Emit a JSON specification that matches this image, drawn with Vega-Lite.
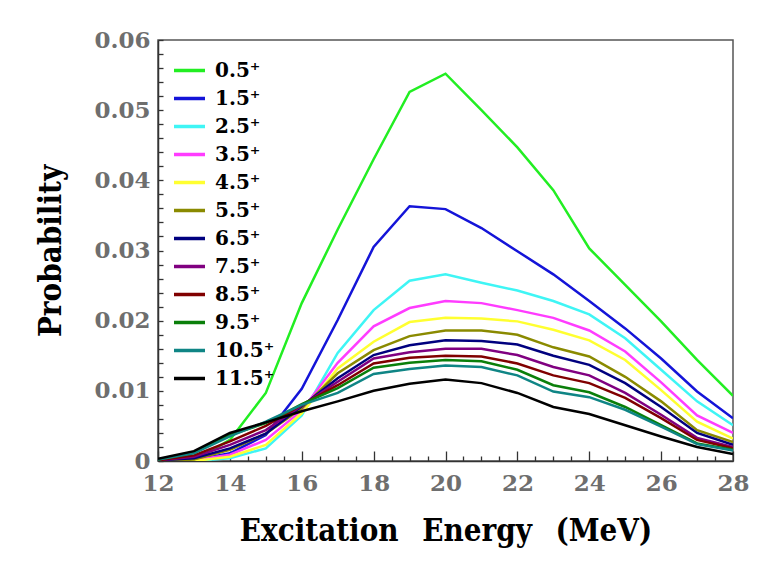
{
  "$schema": "https://vega.github.io/schema/vega-lite/v6.json",
  "width": 575,
  "height": 421,
  "autosize": {"type": "none"},
  "padding": {"left": 158, "top": 40, "right": 50, "bottom": 108},
  "background": "white",
  "config": {
    "view": {"stroke": "#555", "strokeWidth": 1.5},
    "axis": {
      "grid": false,
      "zindex": 1,
      "ticks": true,
      "domainColor": "#333",
      "domainWidth": 1.5,
      "tickColor": "#333",
      "tickWidth": 1.3,
      "labelFont": "DejaVu Serif",
      "labelFontWeight": "bold",
      "labelFontSize": 23,
      "labelColor": "#6e6e6e",
      "labelOverlap": false,
      "labelFlush": false,
      "titleFont": "DejaVu Serif Condensed, DejaVu Serif",
      "titleFontWeight": "bold",
      "titleFontSize": 31,
      "titleColor": "black"
    }
  },
  "data": {
    "values": [
      {"E":12,"J":"0.5⁺","p":0},{"E":13,"J":"0.5⁺","p":0.0001},{"E":14,"J":"0.5⁺","p":0.003},{"E":15,"J":"0.5⁺","p":0.0097},{"E":16,"J":"0.5⁺","p":0.0225},{"E":17,"J":"0.5⁺","p":0.033},{"E":18,"J":"0.5⁺","p":0.043},{"E":19,"J":"0.5⁺","p":0.0526},{"E":20,"J":"0.5⁺","p":0.0552},{"E":21,"J":"0.5⁺","p":0.05},{"E":22,"J":"0.5⁺","p":0.0447},{"E":23,"J":"0.5⁺","p":0.0386},{"E":24,"J":"0.5⁺","p":0.0303},{"E":25,"J":"0.5⁺","p":0.0251},{"E":26,"J":"0.5⁺","p":0.0199},{"E":27,"J":"0.5⁺","p":0.0144},{"E":28,"J":"0.5⁺","p":0.0093},
      {"E":12,"J":"1.5⁺","p":0},{"E":13,"J":"1.5⁺","p":0.0001},{"E":14,"J":"1.5⁺","p":0.0011},{"E":15,"J":"1.5⁺","p":0.0037},{"E":16,"J":"1.5⁺","p":0.0103},{"E":17,"J":"1.5⁺","p":0.0201},{"E":18,"J":"1.5⁺","p":0.0305},{"E":19,"J":"1.5⁺","p":0.0363},{"E":20,"J":"1.5⁺","p":0.0359},{"E":21,"J":"1.5⁺","p":0.0332},{"E":22,"J":"1.5⁺","p":0.0299},{"E":23,"J":"1.5⁺","p":0.0266},{"E":24,"J":"1.5⁺","p":0.0228},{"E":25,"J":"1.5⁺","p":0.0189},{"E":26,"J":"1.5⁺","p":0.0146},{"E":27,"J":"1.5⁺","p":0.0099},{"E":28,"J":"1.5⁺","p":0.0061},
      {"E":12,"J":"2.5⁺","p":0},{"E":13,"J":"2.5⁺","p":0},{"E":14,"J":"2.5⁺","p":0.0004},{"E":15,"J":"2.5⁺","p":0.0018},{"E":16,"J":"2.5⁺","p":0.0065},{"E":17,"J":"2.5⁺","p":0.0154},{"E":18,"J":"2.5⁺","p":0.0215},{"E":19,"J":"2.5⁺","p":0.0257},{"E":20,"J":"2.5⁺","p":0.0266},{"E":21,"J":"2.5⁺","p":0.0254},{"E":22,"J":"2.5⁺","p":0.0243},{"E":23,"J":"2.5⁺","p":0.0228},{"E":24,"J":"2.5⁺","p":0.0209},{"E":25,"J":"2.5⁺","p":0.0175},{"E":26,"J":"2.5⁺","p":0.013},{"E":27,"J":"2.5⁺","p":0.0085},{"E":28,"J":"2.5⁺","p":0.0051},
      {"E":12,"J":"3.5⁺","p":0},{"E":13,"J":"3.5⁺","p":0.0001},{"E":14,"J":"3.5⁺","p":0.0009},{"E":15,"J":"3.5⁺","p":0.003},{"E":16,"J":"3.5⁺","p":0.0072},{"E":17,"J":"3.5⁺","p":0.014},{"E":18,"J":"3.5⁺","p":0.0192},{"E":19,"J":"3.5⁺","p":0.0218},{"E":20,"J":"3.5⁺","p":0.0228},{"E":21,"J":"3.5⁺","p":0.0225},{"E":22,"J":"3.5⁺","p":0.0215},{"E":23,"J":"3.5⁺","p":0.0204},{"E":24,"J":"3.5⁺","p":0.0186},{"E":25,"J":"3.5⁺","p":0.0156},{"E":26,"J":"3.5⁺","p":0.0112},{"E":27,"J":"3.5⁺","p":0.0065},{"E":28,"J":"3.5⁺","p":0.004},
      {"E":12,"J":"4.5⁺","p":0},{"E":13,"J":"4.5⁺","p":0},{"E":14,"J":"4.5⁺","p":0.0006},{"E":15,"J":"4.5⁺","p":0.0023},{"E":16,"J":"4.5⁺","p":0.0068},{"E":17,"J":"4.5⁺","p":0.0132},{"E":18,"J":"4.5⁺","p":0.017},{"E":19,"J":"4.5⁺","p":0.0198},{"E":20,"J":"4.5⁺","p":0.0204},{"E":21,"J":"4.5⁺","p":0.0203},{"E":22,"J":"4.5⁺","p":0.0199},{"E":23,"J":"4.5⁺","p":0.0187},{"E":24,"J":"4.5⁺","p":0.0172},{"E":25,"J":"4.5⁺","p":0.0144},{"E":26,"J":"4.5⁺","p":0.0101},{"E":27,"J":"4.5⁺","p":0.0056},{"E":28,"J":"4.5⁺","p":0.0032},
      {"E":12,"J":"5.5⁺","p":0},{"E":13,"J":"5.5⁺","p":0.0002},{"E":14,"J":"5.5⁺","p":0.0016},{"E":15,"J":"5.5⁺","p":0.0039},{"E":16,"J":"5.5⁺","p":0.0075},{"E":17,"J":"5.5⁺","p":0.0125},{"E":18,"J":"5.5⁺","p":0.0158},{"E":19,"J":"5.5⁺","p":0.0178},{"E":20,"J":"5.5⁺","p":0.0186},{"E":21,"J":"5.5⁺","p":0.0186},{"E":22,"J":"5.5⁺","p":0.018},{"E":23,"J":"5.5⁺","p":0.0162},{"E":24,"J":"5.5⁺","p":0.0149},{"E":25,"J":"5.5⁺","p":0.012},{"E":26,"J":"5.5⁺","p":0.0085},{"E":27,"J":"5.5⁺","p":0.0044},{"E":28,"J":"5.5⁺","p":0.0027},
      {"E":12,"J":"6.5⁺","p":0.0001},{"E":13,"J":"6.5⁺","p":0.0004},{"E":14,"J":"6.5⁺","p":0.0018},{"E":15,"J":"6.5⁺","p":0.0039},{"E":16,"J":"6.5⁺","p":0.0078},{"E":17,"J":"6.5⁺","p":0.0118},{"E":18,"J":"6.5⁺","p":0.0151},{"E":19,"J":"6.5⁺","p":0.0165},{"E":20,"J":"6.5⁺","p":0.0172},{"E":21,"J":"6.5⁺","p":0.0171},{"E":22,"J":"6.5⁺","p":0.0166},{"E":23,"J":"6.5⁺","p":0.015},{"E":24,"J":"6.5⁺","p":0.0137},{"E":25,"J":"6.5⁺","p":0.0111},{"E":26,"J":"6.5⁺","p":0.0077},{"E":27,"J":"6.5⁺","p":0.004},{"E":28,"J":"6.5⁺","p":0.0023},
      {"E":12,"J":"7.5⁺","p":0.0001},{"E":13,"J":"7.5⁺","p":0.0006},{"E":14,"J":"7.5⁺","p":0.0023},{"E":15,"J":"7.5⁺","p":0.0044},{"E":16,"J":"7.5⁺","p":0.0079},{"E":17,"J":"7.5⁺","p":0.0113},{"E":18,"J":"7.5⁺","p":0.0146},{"E":19,"J":"7.5⁺","p":0.0155},{"E":20,"J":"7.5⁺","p":0.016},{"E":21,"J":"7.5⁺","p":0.016},{"E":22,"J":"7.5⁺","p":0.0151},{"E":23,"J":"7.5⁺","p":0.0134},{"E":24,"J":"7.5⁺","p":0.0122},{"E":25,"J":"7.5⁺","p":0.0097},{"E":26,"J":"7.5⁺","p":0.0066},{"E":27,"J":"7.5⁺","p":0.0033},{"E":28,"J":"7.5⁺","p":0.002},
      {"E":12,"J":"8.5⁺","p":0.0001},{"E":13,"J":"8.5⁺","p":0.0008},{"E":14,"J":"8.5⁺","p":0.0028},{"E":15,"J":"8.5⁺","p":0.005},{"E":16,"J":"8.5⁺","p":0.008},{"E":17,"J":"8.5⁺","p":0.0108},{"E":18,"J":"8.5⁺","p":0.0139},{"E":19,"J":"8.5⁺","p":0.0147},{"E":20,"J":"8.5⁺","p":0.015},{"E":21,"J":"8.5⁺","p":0.0149},{"E":22,"J":"8.5⁺","p":0.0139},{"E":23,"J":"8.5⁺","p":0.0122},{"E":24,"J":"8.5⁺","p":0.0111},{"E":25,"J":"8.5⁺","p":0.009},{"E":26,"J":"8.5⁺","p":0.0061},{"E":27,"J":"8.5⁺","p":0.003},{"E":28,"J":"8.5⁺","p":0.0018},
      {"E":12,"J":"9.5⁺","p":0.0002},{"E":13,"J":"9.5⁺","p":0.0012},{"E":14,"J":"9.5⁺","p":0.0037},{"E":15,"J":"9.5⁺","p":0.0054},{"E":16,"J":"9.5⁺","p":0.0081},{"E":17,"J":"9.5⁺","p":0.0104},{"E":18,"J":"9.5⁺","p":0.0133},{"E":19,"J":"9.5⁺","p":0.014},{"E":20,"J":"9.5⁺","p":0.0144},{"E":21,"J":"9.5⁺","p":0.0142},{"E":22,"J":"9.5⁺","p":0.013},{"E":23,"J":"9.5⁺","p":0.0108},{"E":24,"J":"9.5⁺","p":0.0098},{"E":25,"J":"9.5⁺","p":0.0077},{"E":26,"J":"9.5⁺","p":0.0051},{"E":27,"J":"9.5⁺","p":0.0025},{"E":28,"J":"9.5⁺","p":0.0016},
      {"E":12,"J":"10.5⁺","p":0.0002},{"E":13,"J":"10.5⁺","p":0.0011},{"E":14,"J":"10.5⁺","p":0.0035},{"E":15,"J":"10.5⁺","p":0.0056},{"E":16,"J":"10.5⁺","p":0.008},{"E":17,"J":"10.5⁺","p":0.0097},{"E":18,"J":"10.5⁺","p":0.0124},{"E":19,"J":"10.5⁺","p":0.0131},{"E":20,"J":"10.5⁺","p":0.0136},{"E":21,"J":"10.5⁺","p":0.0134},{"E":22,"J":"10.5⁺","p":0.0122},{"E":23,"J":"10.5⁺","p":0.0099},{"E":24,"J":"10.5⁺","p":0.0091},{"E":25,"J":"10.5⁺","p":0.0073},{"E":26,"J":"10.5⁺","p":0.0049},{"E":27,"J":"10.5⁺","p":0.0024},{"E":28,"J":"10.5⁺","p":0.0015},
      {"E":12,"J":"11.5⁺","p":0.0003},{"E":13,"J":"11.5⁺","p":0.0014},{"E":14,"J":"11.5⁺","p":0.004},{"E":15,"J":"11.5⁺","p":0.0055},{"E":16,"J":"11.5⁺","p":0.0071},{"E":17,"J":"11.5⁺","p":0.0085},{"E":18,"J":"11.5⁺","p":0.01},{"E":19,"J":"11.5⁺","p":0.011},{"E":20,"J":"11.5⁺","p":0.0116},{"E":21,"J":"11.5⁺","p":0.0111},{"E":22,"J":"11.5⁺","p":0.0097},{"E":23,"J":"11.5⁺","p":0.0077},{"E":24,"J":"11.5⁺","p":0.0067},{"E":25,"J":"11.5⁺","p":0.0051},{"E":26,"J":"11.5⁺","p":0.0035},{"E":27,"J":"11.5⁺","p":0.002},{"E":28,"J":"11.5⁺","p":0.001}
    ]
  },
  "mark": {"type": "line", "strokeWidth": 2.5, "clip": true},
  "encoding": {
    "x": {
      "field": "E",
      "type": "quantitative",
      "scale": {"domain": [12, 28], "nice": false, "zero": false},
      "axis": {
        "title": "Excitation\u2002\u00a0Energy\u2002\u00a0(MeV)",
        "values": [12,12.5,13,13.5,14,14.5,15,15.5,16,16.5,17,17.5,18,18.5,19,19.5,20,20.5,21,21.5,22,22.5,23,23.5,24,24.5,25,25.5,26,26.5,27,27.5,28],
        "labelExpr": "datum.value % 2 == 0 ? format(datum.value, 'd') : ''",
        "tickSize": {"condition": {"test": "datum.value % 2 == 0", "value": -10}, "value": -5},
        "labelPadding": 21,
        "titlePadding": 16
      }
    },
    "y": {
      "field": "p",
      "type": "quantitative",
      "scale": {"domain": [0, 0.06], "nice": false},
      "axis": {
        "title": "Probability",
        "values": [0,0.002,0.004,0.006,0.008,0.01,0.012,0.014,0.016,0.018,0.02,0.022,0.024,0.026,0.028,0.03,0.032,0.034,0.036,0.038,0.04,0.042,0.044,0.046,0.048,0.05,0.052,0.054,0.056,0.058,0.06],
        "labelExpr": "abs(datum.value*100 - round(datum.value*100)) < 1e-6 ? (datum.value == 0 ? '0' : format(datum.value, '.2f')) : ''",
        "tickSize": -5,
        "labelPadding": 13,
        "titlePadding": 26
      }
    },
    "color": {
      "field": "J",
      "type": "nominal",
      "scale": {
        "domain": ["0.5⁺","1.5⁺","2.5⁺","3.5⁺","4.5⁺","5.5⁺","6.5⁺","7.5⁺","8.5⁺","9.5⁺","10.5⁺","11.5⁺"],
        "range": ["#22ee22","#1414d8","#3ff5f5","#ff3cff","#ffff30","#8a8a00","#00007f","#800080","#800000","#0a7f0a","#0f8585","#000000"]
      },
      "legend": {
        "orient": "none",
        "legendX": 14,
        "legendY": 13,
        "title": null,
        "padding": 0,
        "symbolType": "stroke",
        "symbolSize": 961,
        "symbolStrokeWidth": 3.5,
        "labelFont": "DejaVu Serif",
        "labelFontWeight": "bold",
        "labelFontSize": 20,
        "labelColor": "black",
        "labelOffset": 8,
        "labelLimit": 0,
        "rowPadding": -3.5
      }
    }
  }
}
